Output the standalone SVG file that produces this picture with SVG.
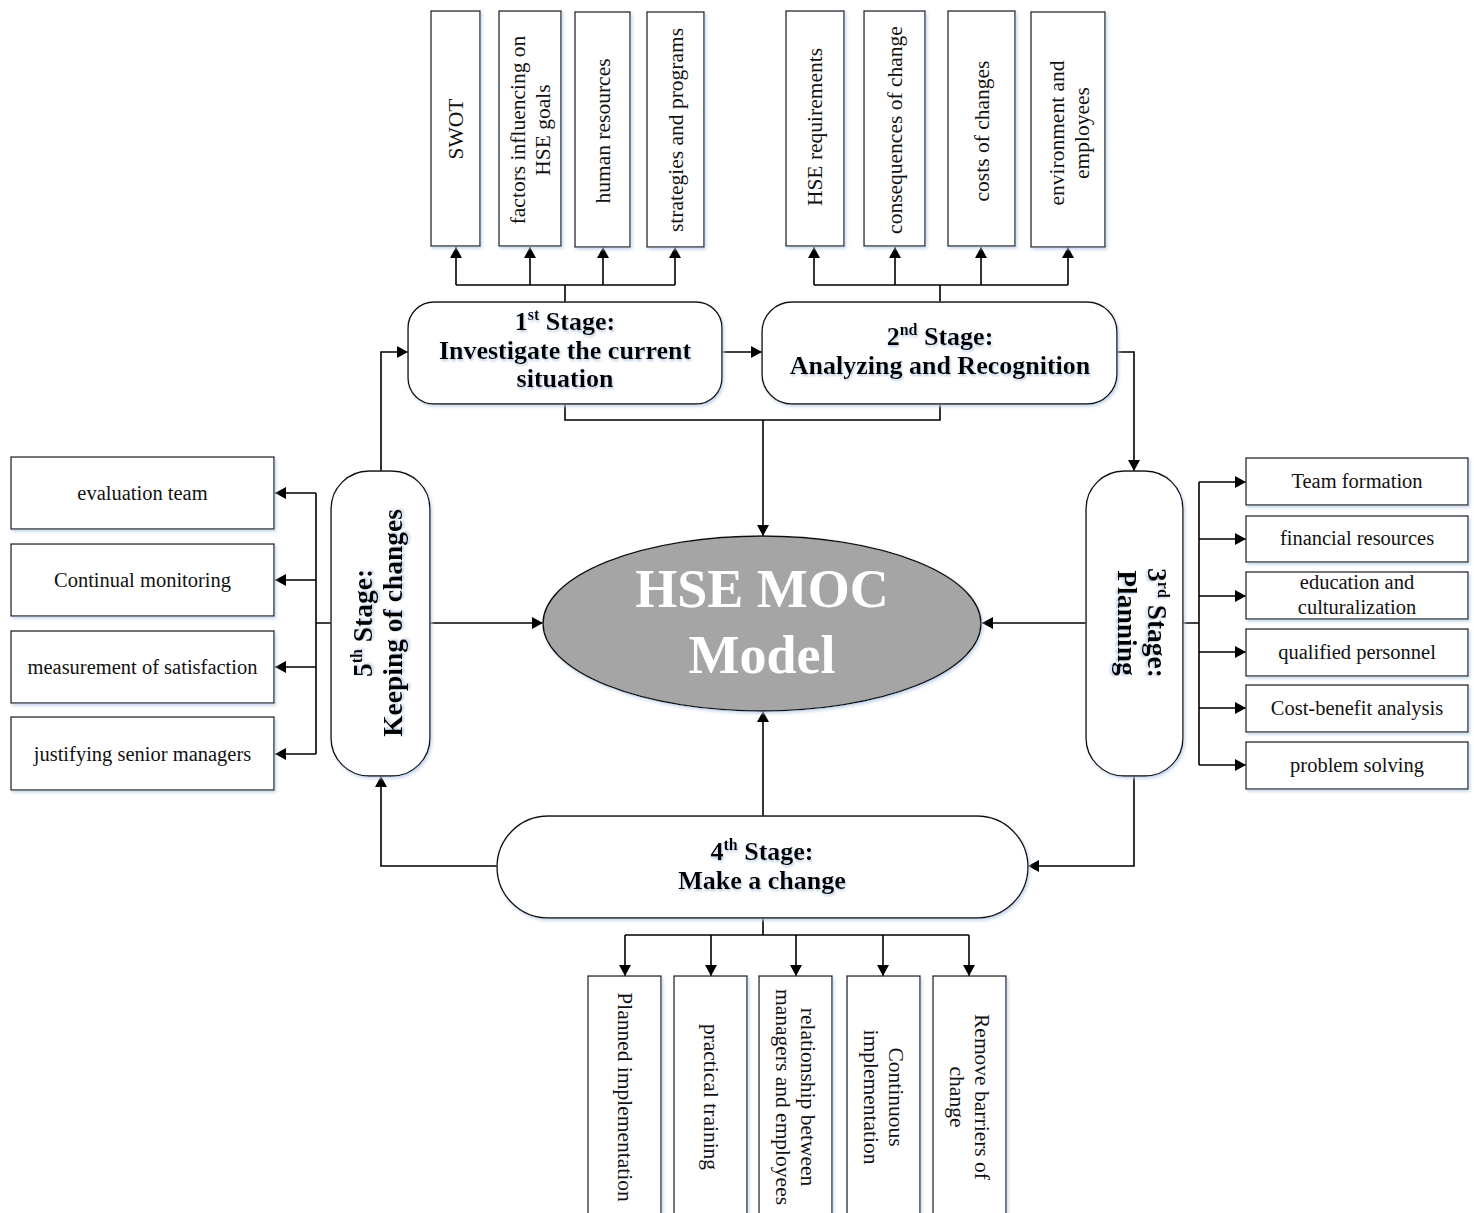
<svg xmlns="http://www.w3.org/2000/svg" width="1474" height="1213" viewBox="0 0 1474 1213">
<defs>
<marker id="arr" markerWidth="12" markerHeight="12" refX="11" refY="6" orient="auto" markerUnits="userSpaceOnUse">
<path d="M0,0 L11,6 L0,12 Z" fill="#000"/>
</marker>
<filter id="sh" x="-10%" y="-10%" width="120%" height="120%">
<feDropShadow dx="1.5" dy="2" stdDeviation="1.5" flood-color="#b9cde6" flood-opacity="0.8"/>
</filter>
<filter id="tsh" x="-5%" y="-20%" width="110%" height="140%">
<feDropShadow dx="1" dy="2" stdDeviation="1.2" flood-color="#9fb8d8" flood-opacity="0.7"/>
</filter>
</defs>
<style>
.box{fill:#fff;stroke:#222;stroke-width:1.3;filter:url(#sh)}
.stage{fill:#fff;stroke:#111;stroke-width:1.4;filter:url(#sh)}
.t{font-family:"Liberation Serif","Times New Roman",serif;font-size:20.5px;fill:#111;text-anchor:middle}
.v{font-size:21.5px}
.st{font-family:"Liberation Serif","Times New Roman",serif;font-size:26px;font-weight:bold;fill:#000;text-anchor:middle;filter:url(#tsh)}
.sv{font-size:27.5px}
.sup{font-size:16px}
.c{fill:none;stroke:#000;stroke-width:1.6}
.a{marker-end:url(#arr)}
</style>
<rect width="1474" height="1213" fill="#fff"/>

<g id="connectors">
<path class="c" d="M565,302 V285 M456,285 H675 M940,302 V285 M814,285 H1068"/>
<path class="c a" d="M456,285 V247"/>
<path class="c a" d="M530,285 V247"/>
<path class="c a" d="M603,285 V247"/>
<path class="c a" d="M675,285 V247"/>
<path class="c a" d="M814,285 V247"/>
<path class="c a" d="M895,285 V247"/>
<path class="c a" d="M981,285 V247"/>
<path class="c a" d="M1068,285 V247"/>
<path class="c a" d="M722,352 H762"/>
<path class="c a" d="M1117,352 H1134 V471"/>
<path class="c" d="M565,404 V420 H940 V404"/>
<path class="c a" d="M763,420 V536"/>
<path class="c a" d="M1086,623 H982"/>
<path class="c" d="M1183,623 H1199 M1199,482 V765"/>
<path class="c a" d="M1199,482 H1246"/>
<path class="c a" d="M1199,539 H1246"/>
<path class="c a" d="M1199,596 H1246"/>
<path class="c a" d="M1199,652 H1246"/>
<path class="c a" d="M1199,708 H1246"/>
<path class="c a" d="M1199,765 H1246"/>
<path class="c a" d="M1134,776 V866 H1028"/>
<path class="c a" d="M763,816 V711"/>
<path class="c" d="M763,918 V935 M625,935 H969"/>
<path class="c a" d="M625,935 V976"/>
<path class="c a" d="M711,935 V976"/>
<path class="c a" d="M796,935 V976"/>
<path class="c a" d="M883,935 V976"/>
<path class="c a" d="M969,935 V976"/>
<path class="c a" d="M497,866 H381 V776"/>
<path class="c a" d="M430,623 H543"/>
<path class="c" d="M331,623 H316 M316,493 V754"/>
<path class="c a" d="M316,493 H275"/>
<path class="c a" d="M316,580 H275"/>
<path class="c a" d="M316,667 H275"/>
<path class="c a" d="M316,754 H275"/>
<path class="c a" d="M381,471 V352 H408"/>
</g>

<g id="center">
<ellipse cx="762" cy="623.5" rx="219" ry="87.5" fill="#a5a5a5" stroke="#111" stroke-width="1.4" filter="url(#sh)"/>
<text x="762" y="607" font-family="'Liberation Serif','Times New Roman',serif" font-size="54" font-weight="bold" fill="#fff" text-anchor="middle">HSE MOC</text>
<text x="762" y="673" font-family="'Liberation Serif','Times New Roman',serif" font-size="54" font-weight="bold" fill="#fff" text-anchor="middle">Model</text>
</g>

<g id="stage1">
<rect class="stage" x="408" y="302" width="314" height="102" rx="26"/>
<text class="st" x="565" y="330">1<tspan class="sup" dy="-10">st</tspan><tspan dy="10"> Stage:</tspan></text>
<text class="st" x="565" y="358.5">Investigate the current</text>
<text class="st" x="565" y="387">situation</text>
</g>

<g id="stage2">
<rect class="stage" x="762" y="302" width="355" height="102" rx="30"/>
<text class="st" x="940" y="345">2<tspan class="sup" dy="-10">nd</tspan><tspan dy="10"> Stage:</tspan></text>
<text class="st" x="940" y="374">Analyzing and Recognition</text>
</g>

<g id="stage3">
<rect class="stage" x="1086" y="471" width="97" height="305" rx="38"/>
<text class="st sv" transform="translate(1134,623) rotate(90)"><tspan x="0" y="-14">3<tspan class="sup" dy="-10">rd</tspan><tspan dy="10"> Stage:</tspan></tspan><tspan x="0" y="16">Planning</tspan></text>
</g>

<g id="stage4">
<rect class="stage" x="497" y="816" width="531" height="102" rx="51"/>
<text class="st" x="762" y="860">4<tspan class="sup" dy="-10">th</tspan><tspan dy="10"> Stage:</tspan></text>
<text class="st" x="762" y="889">Make a change</text>
</g>

<g id="stage5">
<rect class="stage" x="331" y="471" width="99" height="305" rx="38"/>
<text class="st sv" transform="translate(381,623) rotate(-90)"><tspan x="0" y="-9">5<tspan class="sup" dy="-10">th</tspan><tspan dy="10"> Stage:</tspan></tspan><tspan x="0" y="21">Keeping of changes</tspan></text>
</g>

<g id="top1-swot"><rect class="box" x="431" y="11" width="49" height="235"/>
<text class="t v" transform="translate(455.5,129) rotate(-90)" x="0" y="7">SWOT</text></g>
<g id="top1-factors"><rect class="box" x="499" y="11" width="62" height="235"/>
<text class="t v" transform="translate(530,130) rotate(-90)"><tspan x="0" y="-5.5">factors influencing on</tspan><tspan x="0" y="19.5">HSE goals</tspan></text></g>
<g id="top1-human"><rect class="box" x="575" y="12" width="55" height="235"/>
<text class="t v" transform="translate(602.5,131) rotate(-90)" x="0" y="7">human resources</text></g>
<g id="top1-strategies"><rect class="box" x="647" y="12" width="57" height="235"/>
<text class="t v" transform="translate(675.5,130) rotate(-90)" x="0" y="7">strategies and programs</text></g>

<g id="top2-hse"><rect class="box" x="786" y="11" width="58" height="235"/>
<text class="t v" transform="translate(815,127) rotate(-90)" x="0" y="7">HSE requirements</text></g>
<g id="top2-consequences"><rect class="box" x="864" y="11" width="61" height="235"/>
<text class="t v" transform="translate(894.5,130) rotate(-90)" x="0" y="7">consequences of change</text></g>
<g id="top2-costs"><rect class="box" x="948" y="11" width="67" height="235"/>
<text class="t v" transform="translate(981.5,131) rotate(-90)" x="0" y="7">costs of changes</text></g>
<g id="top2-environment"><rect class="box" x="1031" y="12" width="74" height="235"/>
<text class="t v" transform="translate(1069,133) rotate(-90)"><tspan x="0" y="-5.5">environment and</tspan><tspan x="0" y="19.5">employees</tspan></text></g>

<g id="left-evaluation"><rect class="box" x="11" y="457" width="263" height="72"/>
<text class="t" x="142.5" y="500">evaluation team</text></g>
<g id="left-monitoring"><rect class="box" x="11" y="544" width="263" height="72"/>
<text class="t" x="142.5" y="587">Continual monitoring</text></g>
<g id="left-satisfaction"><rect class="box" x="11" y="631" width="263" height="72"/>
<text class="t" x="142.5" y="674">measurement of satisfaction</text></g>
<g id="left-justifying"><rect class="box" x="11" y="717" width="263" height="73"/>
<text class="t" x="142.5" y="761">justifying senior managers</text></g>

<g id="right-team"><rect class="box" x="1246" y="458" width="222" height="47"/>
<text class="t" x="1357" y="488">Team formation</text></g>
<g id="right-financial"><rect class="box" x="1246" y="516" width="222" height="46"/>
<text class="t" x="1357" y="545">financial resources</text></g>
<g id="right-education"><rect class="box" x="1246" y="572" width="222" height="47"/>
<text class="t" x="1357" y="589">education and</text>
<text class="t" x="1357" y="614">culturalization</text></g>
<g id="right-qualified"><rect class="box" x="1246" y="629" width="222" height="47"/>
<text class="t" x="1357" y="659">qualified personnel</text></g>
<g id="right-cba"><rect class="box" x="1246" y="685" width="222" height="47"/>
<text class="t" x="1357" y="715">Cost-benefit analysis</text></g>
<g id="right-problem"><rect class="box" x="1246" y="742" width="222" height="47"/>
<text class="t" x="1357" y="772">problem solving</text></g>

<g id="bottom-planned"><rect class="box" x="588" y="976" width="73" height="250"/>
<text class="t v" transform="translate(624.5,1097) rotate(90)" x="0" y="7">Planned implementation</text></g>
<g id="bottom-training"><rect class="box" x="674" y="976" width="73" height="250"/>
<text class="t v" transform="translate(710.5,1097) rotate(90)" x="0" y="7">practical training</text></g>
<g id="bottom-relationship"><rect class="box" x="759" y="976" width="73" height="250"/>
<text class="t v" transform="translate(795.5,1097) rotate(90)"><tspan x="0" y="-5.5">relationship between</tspan><tspan x="0" y="19.5">managers and employees</tspan></text></g>
<g id="bottom-continuous"><rect class="box" x="847" y="976" width="73" height="250"/>
<text class="t v" transform="translate(883.5,1097) rotate(90)"><tspan x="0" y="-5.5">Continuous</tspan><tspan x="0" y="19.5">implementation</tspan></text></g>
<g id="bottom-remove"><rect class="box" x="933" y="976" width="73" height="250"/>
<text class="t v" transform="translate(969.5,1097) rotate(90)"><tspan x="0" y="-5.5">Remove barriers of</tspan><tspan x="0" y="19.5">change</tspan></text></g>
</svg>
